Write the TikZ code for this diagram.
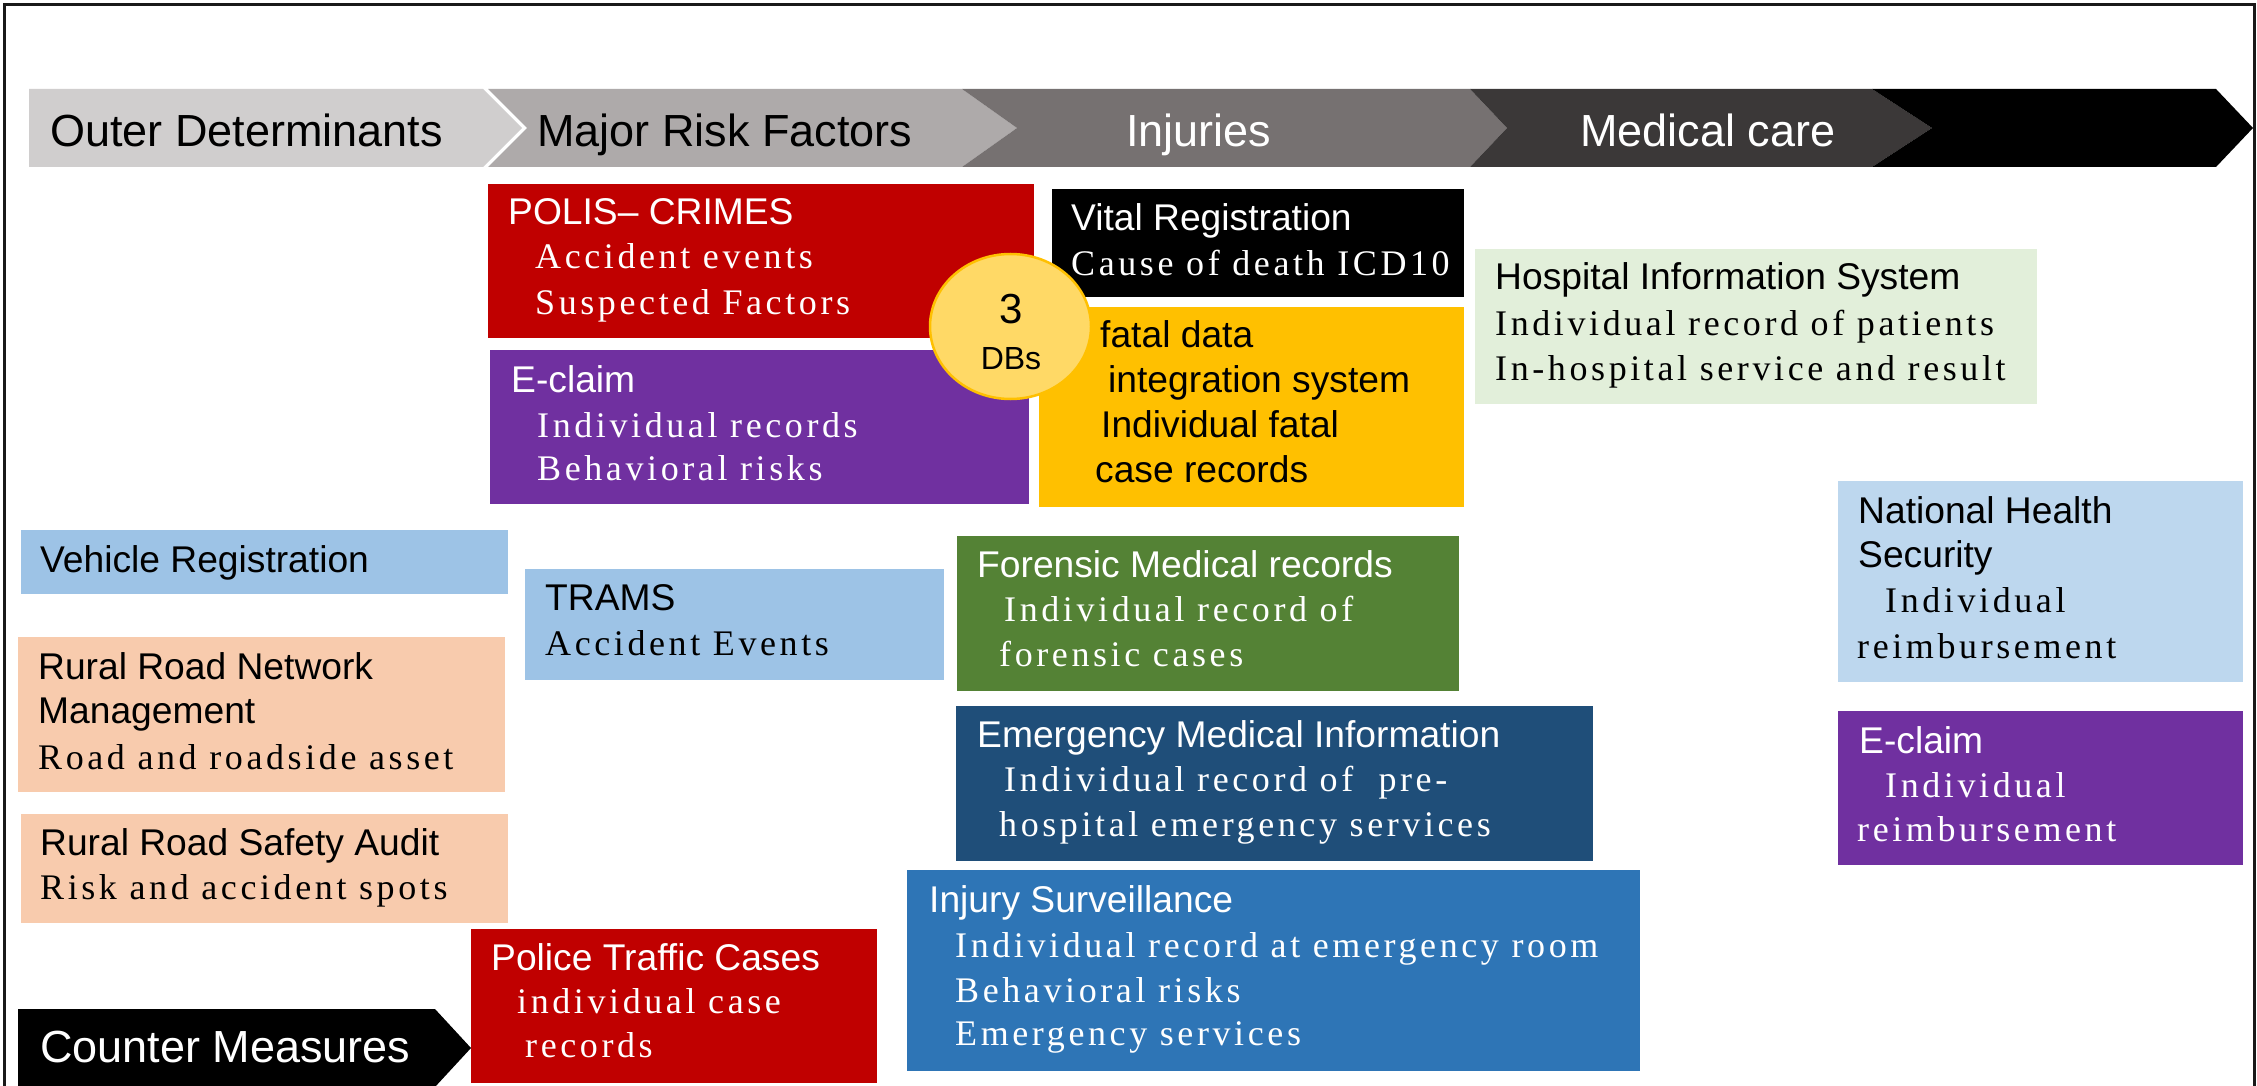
\documentclass[tikz,border=0pt]{standalone}
\usepackage{fontspec}
\setmainfont{Liberation Serif}
\setsansfont{Liberation Sans}
\newfontfamily\bodyfont[LetterSpace=10]{Liberation Serif}
\usetikzlibrary{shapes.geometric}
\definecolor{cred}{HTML}{C00000}
\definecolor{cpurple}{HTML}{7030A0}
\definecolor{cgold}{HTML}{FFC000}
\definecolor{cgoldl}{HTML}{FFD966}
\definecolor{cgreenl}{HTML}{E2EFDA}
\definecolor{cblue}{HTML}{9DC3E6}
\definecolor{cbluel}{HTML}{BDD7EE}
\definecolor{cpeach}{HTML}{F8CBAD}
\definecolor{cgreen}{HTML}{548235}
\definecolor{cdblue}{HTML}{1F4E79}
\definecolor{cmblue}{HTML}{2E75B6}
\definecolor{sega}{HTML}{D0CECE}
\definecolor{segb}{HTML}{AEAAAA}
\definecolor{segc}{HTML}{767171}
\definecolor{segd}{HTML}{3B3838}
\begin{document}
\begin{tikzpicture}[x=1pt,y=-1pt,
  box/.style={draw=none, inner sep=0pt, outer sep=0pt, anchor=north west},
  ttl/.style={anchor=base west, inner sep=0pt, font=\sffamily\fontsize{37.2}{44}\selectfont},
  bod/.style={anchor=base west, inner sep=0pt, font=\bodyfont\fontsize{36}{43}\selectfont},
  chv/.style={anchor=base west, inner sep=0pt, font=\sffamily\fontsize{45}{54}\selectfont},
]
\useasboundingbox (0,0) rectangle (2257,1086);
\fill[white] (0,0) rectangle (2257,1086);
% frame
\draw[line width=3pt, black!90] (4.5,1095) -- (4.5,4.5) -- (2254.5,4.5) -- (2254.5,1095);
% chevron band
\fill[sega] (29,89) -- (483,89) -- (522,128) -- (483,167) -- (29,167) -- cycle;
\fill[segb] (488,89) -- (962,89) -- (1017,128) -- (962,167) -- (488,167) -- (527,128) -- cycle;
\fill[segc] (962,89) -- (1470,89) -- (1507,128) -- (1470,167) -- (962,167) -- (1017,128) -- cycle;
\fill[segd] (1470,89) -- (1872,89) -- (1932,128) -- (1872,167) -- (1470,167) -- (1507,128) -- cycle;
\fill[black] (1872,89) -- (2216,89) -- (2253,128) -- (2216,167) -- (1872,167) -- (1932,128) -- cycle;
\node[chv] (ch1) at (50,147) {Outer Determinants};
\node[chv] (ch2) at (537,147) {Major Risk Factors};
\node[chv, white] (ch3) at (1126,147) {Injuries};
\node[chv, white] (ch4) at (1580,147) {Medical care};
% counter measures
\fill[black] (18,1009) -- (435,1009) -- (471,1048) -- (435,1087) -- (18,1087) -- cycle;
\node[chv, white] (cm) at (40,1062) {Counter Measures};
% boxes
\node[box, fill=cred, minimum width=546pt, minimum height=154pt] (polis) at (488,184) {};
\node[box, fill=cpurple, minimum width=539pt, minimum height=154pt] (eclaim) at (490,350) {};
\node[box, fill=black, minimum width=412pt, minimum height=108pt] (vital) at (1052,189) {};
\node[box, fill=cgold, minimum width=425pt, minimum height=200pt] (fatal) at (1039,307) {};
\node[box, fill=cgreenl, minimum width=562pt, minimum height=155pt] (his) at (1475,249) {};
\node[box, fill=cbluel, minimum width=405pt, minimum height=201pt] (nhs) at (1838,481) {};
\node[box, fill=cpurple, minimum width=405pt, minimum height=154pt] (eclaimb) at (1838,711) {};
\node[box, fill=cblue, minimum width=487pt, minimum height=64pt] (vehicle) at (21,530) {};
\node[box, fill=cblue, minimum width=419pt, minimum height=111pt] (trams) at (525,569) {};
\node[box, fill=cpeach, minimum width=487pt, minimum height=155pt] (rrnm) at (18,637) {};
\node[box, fill=cpeach, minimum width=487pt, minimum height=109pt] (rrsa) at (21,814) {};
\node[box, fill=cred, minimum width=406pt, minimum height=154pt] (ptc) at (471,929) {};
\node[box, fill=cgreen, minimum width=502pt, minimum height=155pt] (forensic) at (957,536) {};
\node[box, fill=cdblue, minimum width=637pt, minimum height=155pt] (emi) at (956,706) {};
\node[box, fill=cmblue, minimum width=733pt, minimum height=201pt] (injs) at (907,870) {};
% circle
\node[ellipse, draw=cgold, fill=cgoldl, line width=2.5pt, minimum width=161pt, minimum height=145pt, inner sep=0pt] (dbs) at (1010.5,326.5) {};
\node[anchor=base, inner sep=0pt, font=\sffamily\fontsize{42}{50}\selectfont] (three) at (1011,323) {3};
\node[anchor=base, inner sep=0pt, font=\sffamily\fontsize{32}{38}\selectfont] (dbstext) at (1011,369) {DBs};
% texts
\node[ttl, white] (polis1) at (508,225) {POLIS– CRIMES};
\node[bod, white] (polis2) at (535,269) {Accident events};
\node[bod, white] (polis3) at (535,314) {Suspected Factors};
\node[ttl, white] (ec1) at (511,392) {E-claim};
\node[bod, white] (ec2) at (537,437) {Individual records};
\node[bod, white] (ec3) at (537,480) {Behavioral risks};
\node[ttl, white] (vr1) at (1071,230) {Vital Registration};
\node[bod, white] (vr2) at (1071,275) {Cause of death ICD10};
\node[ttl] (fd1) at (1100,347) {fatal data};
\node[ttl] (fd2) at (1108,392) {integration system};
\node[ttl] (fd3) at (1101,437) {Individual fatal};
\node[ttl] (fd4) at (1095,482) {case records};
\node[ttl] (his1) at (1495,289) {Hospital Information System};
\node[bod] (his2) at (1495,335) {Individual record of patients};
\node[bod] (his3) at (1495,380) {In-hospital service and result};
\node[ttl] (nhs1) at (1858,523) {National Health};
\node[ttl] (nhs2) at (1858,567) {Security};
\node[bod] (nhs3) at (1885,612) {Individual};
\node[bod] (nhs4) at (1857,658) {reimbursement};
\node[ttl, white] (ecb1) at (1859,753) {E-claim};
\node[bod, white] (ecb2) at (1885,797) {Individual};
\node[bod, white] (ecb3) at (1857,841) {reimbursement};
\node[ttl] (veh1) at (40,572) {Vehicle Registration};
\node[ttl] (tr1) at (545,610) {TRAMS};
\node[bod] (tr2) at (545,655) {Accident Events};
\node[ttl] (rn1) at (38,679) {Rural Road Network};
\node[ttl] (rn2) at (38,723) {Management};
\node[bod] (rn3) at (38,769) {Road and roadside asset};
\node[ttl] (rs1) at (40,855) {Rural Road Safety Audit};
\node[bod] (rs2) at (40,899) {Risk and accident spots};
\node[ttl, white] (pt1) at (491,970) {Police Traffic Cases};
\node[bod, white] (pt2) at (517,1013) {individual case};
\node[bod, white] (pt3) at (525,1057) {records};
\node[ttl, white] (fo1) at (977,577) {Forensic Medical records};
\node[bod, white] (fo2) at (1004,621) {Individual record of};
\node[bod, white] (fo3) at (999,666) {forensic cases};
\node[ttl, white] (em1) at (977,747) {Emergency Medical Information};
\node[bod, white] (em2) at (1004,791) {Individual record of\ \ pre-};
\node[bod, white] (em3) at (999,836) {hospital emergency services};
\node[ttl, white] (is1) at (929,912) {Injury Surveillance};
\node[bod, white] (is2) at (955,957) {Individual record at emergency room};
\node[bod, white] (is3) at (955,1002) {Behavioral risks};
\node[bod, white] (is4) at (955,1045) {Emergency services};
\end{tikzpicture}
\end{document}
